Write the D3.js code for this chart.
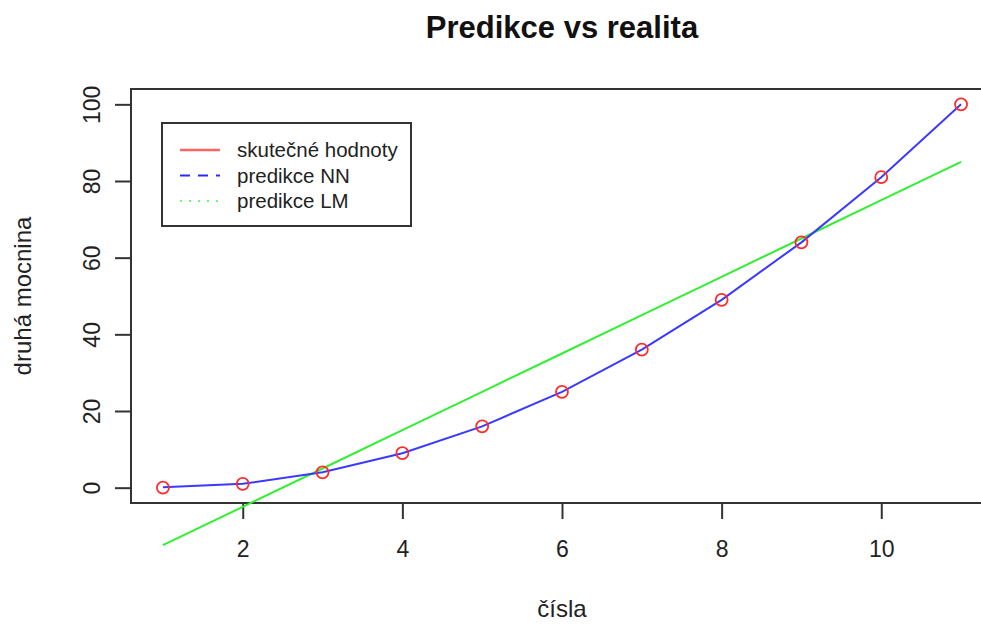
<!DOCTYPE html>
<html>
<head>
<meta charset="utf-8">
<script src="https://cdn.jsdelivr.net/npm/d3@7"></script>
<style>
  html, body { margin: 0; padding: 0; background: #fff; }
  svg { display: block; font-family: "Liberation Sans", Arial, Helvetica, sans-serif; }
</style>
</head>
<body>
<svg id="chart" width="981" height="624"></svg>
<script>
// Input numbers and their squares
const xs = [1, 2, 3, 4, 5, 6, 7, 8, 9, 10, 11];
const actual = [0, 1, 4, 9, 16, 25, 36, 49, 64, 81, 100];
// Neural network predictions
const predNN = [0.1, 1.0, 4.0, 9.0, 16.0, 25.0, 36.0, 49.0, 64.0, 81.0, 100.0];
// Linear model predictions
const predLM = [-15, -5, 5, 15, 25, 35, 45, 55, 65, 75, 85];
const xTicks = [2, 4, 6, 8, 10];
const yTicks = [0, 20, 40, 60, 80, 100];
const legendLabels = ["skutečné hodnoty", "predikce NN", "predikce LM"];

const svg = d3.select("#chart");
const plot = { left: 131, top: 89, right: 993, bottom: 503 };

// R-style axis ranges: data range padded by 4% on each side
const xScale = d3.scaleLinear().domain([0.6, 11.4]).range([plot.left, plot.right]);
const yScale = d3.scaleLinear().domain([-4, 104]).range([plot.bottom, plot.top]);

const axisColor = "#333";

// Plot box
svg.append("rect")
  .attr("x", plot.left).attr("y", plot.top)
  .attr("width", plot.right - plot.left).attr("height", plot.bottom - plot.top)
  .attr("fill", "none").attr("stroke", axisColor).attr("stroke-width", 2);

// X axis
const xAxis = d3.axisBottom(xScale).tickValues(xTicks).tickSize(16).tickPadding(22).tickFormat(d3.format("d"));
const gx = svg.append("g").attr("transform", `translate(0,${plot.bottom})`).call(xAxis);
gx.select(".domain").remove();
gx.selectAll(".tick line").attr("stroke", axisColor).attr("stroke-width", 2);
gx.selectAll(".tick text").attr("fill", "#222").attr("font-size", 23).attr("font-family", "Liberation Sans, Arial, sans-serif");

// Y axis with rotated labels
const yAxis = d3.axisLeft(yScale).tickValues(yTicks).tickSize(16).tickFormat(d3.format("d"));
const gy = svg.append("g").attr("transform", `translate(${plot.left},0)`).call(yAxis);
gy.select(".domain").remove();
gy.selectAll(".tick line").attr("stroke", axisColor).attr("stroke-width", 2);
gy.selectAll(".tick text")
  .attr("fill", "#222").attr("font-size", 23).attr("font-family", "Liberation Sans, Arial, sans-serif")
  .attr("x", null)
  .attr("text-anchor", "middle")
  .attr("transform", "translate(-39,0) rotate(-90)")
  .attr("dy", "0.35em");

// Titles
svg.append("text")
  .attr("x", (plot.left + plot.right) / 2).attr("y", 38)
  .attr("text-anchor", "middle").attr("font-size", 31).attr("font-weight", "bold").attr("fill", "#111")
  .text("Predikce vs realita");
svg.append("text")
  .attr("x", (plot.left + plot.right) / 2).attr("y", 617)
  .attr("text-anchor", "middle").attr("font-size", 24).attr("fill", "#222")
  .text("čísla");
svg.append("text")
  .attr("transform", `translate(31,${(plot.top + plot.bottom) / 2}) rotate(-90)`)
  .attr("text-anchor", "middle").attr("font-size", 24).attr("fill", "#222")
  .text("druhá mocnina");

const line = (ys) => d3.line().x((d, i) => xScale(xs[i])).y(d => yScale(d))(ys);

// Linear model line
svg.append("path").attr("d", line(predLM))
  .attr("fill", "none").attr("stroke", "#33ee33").attr("stroke-width", 2);

// Neural network line
svg.append("path").attr("d", line(predNN))
  .attr("fill", "none").attr("stroke", "#3a3aff").attr("stroke-width", 2);

// Actual values as open circles
svg.append("g").selectAll("circle").data(actual).join("circle")
  .attr("cx", (d, i) => xScale(xs[i])).attr("cy", d => yScale(d))
  .attr("r", 6).attr("fill", "none").attr("stroke", "#ff2a2a").attr("stroke-width", 1.8);

// Legend
const leg = svg.append("g");
leg.append("rect").attr("x", 162).attr("y", 123).attr("width", 249).attr("height", 103)
  .attr("fill", "#fff").attr("stroke", axisColor).attr("stroke-width", 2);
const legendStyles = [
  { color: "#ff6464", dash: null, width: 2.5 },
  { color: "#2a2aff", dash: "10,8", width: 2 },
  { color: "#66ff66", dash: "2,7", width: 2 }
];
legendLabels.forEach((lab, i) => {
  const yy = 150 + i * 25.5;
  leg.append("line").attr("x1", 180).attr("x2", 220).attr("y1", yy).attr("y2", yy)
    .attr("stroke", legendStyles[i].color).attr("stroke-width", legendStyles[i].width)
    .attr("stroke-dasharray", legendStyles[i].dash);
  leg.append("text").attr("x", 237).attr("y", yy).attr("dy", "0.35em")
    .attr("font-size", 20.5).attr("fill", "#222").text(lab);
});
</script>
</body>
</html>
